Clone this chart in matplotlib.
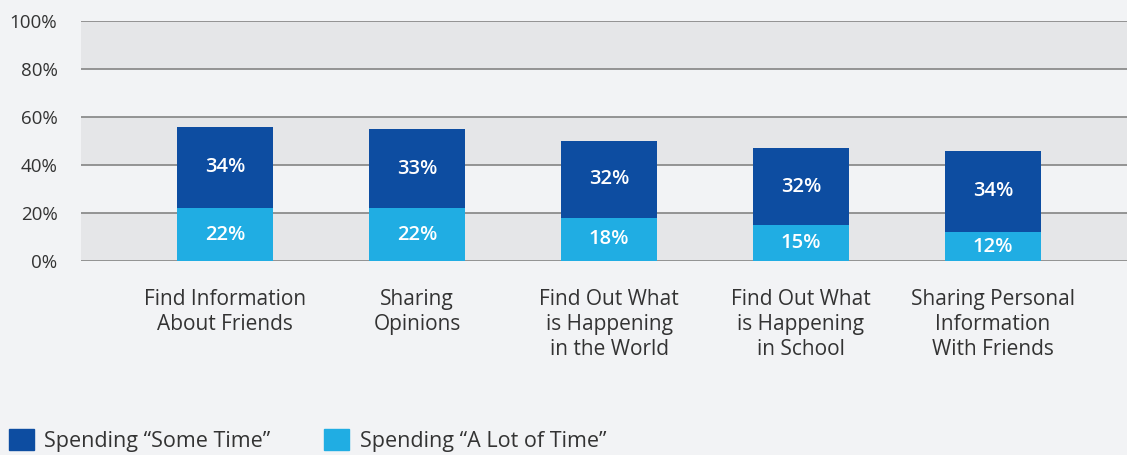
import numpy as np
import matplotlib.pyplot as plt
from matplotlib.patches import Patch

categories = ["Find Information\nAbout Friends", "Sharing\nOpinions",
              "Find Out What\nis Happening\nin the World",
              "Find Out What\nis Happening\nin School",
              "Sharing Personal\nInformation\nWith Friends"]
a_lot = [22, 22, 18, 15, 12]
some = [34, 33, 32, 32, 34]
series_names = ["Spending \u201cSome Time\u201d", "Spending \u201cA Lot of Time\u201d"]

dark = "#0d4da1"
light = "#20ade3"
bg = "#f2f3f5"
band = "#e5e6e8"
txt = "#333333"

plt.rcParams['font.family'] = ['Open Sans', 'DejaVu Sans']

fig = plt.figure(figsize=(11.27, 4.55), dpi=100, facecolor=bg)
ax = fig.add_axes([81/1127, (455-261)/455, (1127-81)/1127, 240/455])
ax.set_facecolor(bg)

# shaded bands
for lo in (0, 40, 80):
    ax.axhspan(lo, lo + 20, color=band, zorder=0, lw=0)
for y in range(0, 101, 20):
    ax.axhline(y, color="#8c8c8c", lw=1.3, zorder=1)

x = np.arange(len(categories))
w = 0.5
b1 = ax.bar(x, a_lot, w, color=light, zorder=2)
b2 = ax.bar(x, some, w, bottom=a_lot, color=dark, zorder=2)

for i in range(len(x)):
    ax.text(x[i], a_lot[i] / 2, "%d%%" % a_lot[i], ha='center', va='center',
            color='white', fontsize=14.5, fontweight='semibold', zorder=3)
    ax.text(x[i], a_lot[i] + some[i] / 2, "%d%%" % some[i], ha='center', va='center',
            color='white', fontsize=14.5, fontweight='semibold', zorder=3)

ax.set_xlim((81 - 225) / 192, (1127 - 225) / 192)
ax.set_ylim(0, 100)
ax.set_yticks(range(0, 101, 20))
ax.set_yticklabels(["%d%%" % v for v in range(0, 101, 20)], fontsize=13.5, color=txt)
ax.set_xticks(x)
ax.set_xticklabels(categories, fontsize=15, color=txt, linespacing=1.27)
ax.tick_params(axis='y', length=0, pad=17)
ax.tick_params(axis='x', length=0, pad=20)
for s in ax.spines.values():
    s.set_visible(False)

handles = [Patch(color=dark), Patch(color=light)]
fig.legend(handles, series_names, loc='center left', bbox_to_anchor=(0.0, 14.5 / 455),
           ncol=2, frameon=False, fontsize=15.5, handlelength=1.16, handleheight=1.07,
           handletextpad=0.5, columnspacing=2.5, labelcolor=txt, borderaxespad=0)

plt.savefig("out.png", dpi=100, facecolor=bg)
